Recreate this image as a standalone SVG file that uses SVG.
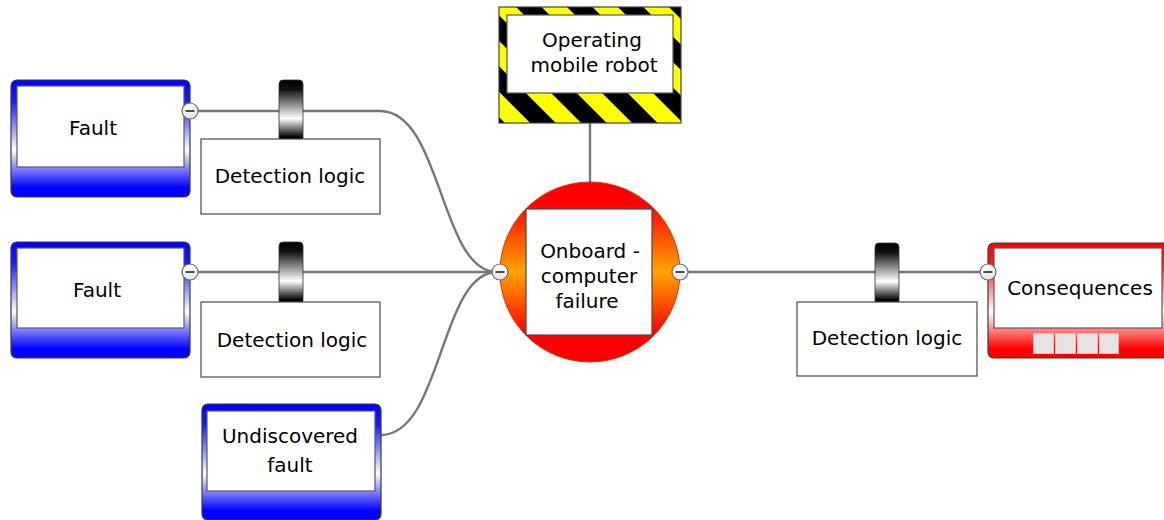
<svg xmlns="http://www.w3.org/2000/svg" width="1164" height="520" viewBox="0 0 1164 520">
  <defs>
    <linearGradient id="gBlue" x1="0" y1="0" x2="0" y2="1">
      <stop offset="0" stop-color="#0000ff"/>
      <stop offset="0.18" stop-color="#1a1aff"/>
      <stop offset="0.6" stop-color="#ffffff"/>
      <stop offset="0.92" stop-color="#0000ff"/>
      <stop offset="1" stop-color="#0000ff"/>
    </linearGradient>
    <linearGradient id="gRed" x1="0" y1="0" x2="0" y2="1">
      <stop offset="0" stop-color="#ff0000"/>
      <stop offset="0.18" stop-color="#ff1a1a"/>
      <stop offset="0.6" stop-color="#ffffff"/>
      <stop offset="0.92" stop-color="#ff0000"/>
      <stop offset="1" stop-color="#ff0000"/>
    </linearGradient>
    <linearGradient id="gCore" x1="0" y1="0" x2="0" y2="1">
      <stop offset="0" stop-color="#ff0000"/>
      <stop offset="0.12" stop-color="#ff0000"/>
      <stop offset="0.5" stop-color="#ffa500"/>
      <stop offset="0.84" stop-color="#ff0000"/>
      <stop offset="1" stop-color="#ff0000"/>
    </linearGradient>
    <linearGradient id="gBarrel" x1="0" y1="0" x2="0" y2="1">
      <stop offset="0" stop-color="#000000"/>
      <stop offset="0.15" stop-color="#111111"/>
      <stop offset="0.62" stop-color="#ffffff"/>
      <stop offset="0.92" stop-color="#000000"/>
      <stop offset="1" stop-color="#000000"/>
    </linearGradient>
    <linearGradient id="gKnob" x1="0" y1="0" x2="0" y2="1">
      <stop offset="0" stop-color="#ffffff"/>
      <stop offset="1" stop-color="#e4e4e4"/>
    </linearGradient>
    <pattern id="hazard" width="36" height="36" patternUnits="userSpaceOnUse" patternTransform="rotate(-45)">
      <rect width="36" height="36" fill="#ffff00"/>
      <rect width="18" height="36" fill="#000000"/>
    </pattern>
    <g id="knob">
      <circle r="8" fill="url(#gKnob)" stroke="#6a6a6a" stroke-width="1.2"/>
      <line x1="-4.5" y1="0" x2="4.5" y2="0" stroke="#222" stroke-width="1.6"/>
    </g>
  </defs>
  <style>
    .lbl { font-family: "DejaVu Sans", "Liberation Sans", sans-serif; font-size: 20px; fill: #000; text-anchor: middle; }
    .frame { stroke: #3a3a3a; stroke-width: 1.2; }
    .face { fill: #ffffff; stroke: #5a5a5a; stroke-width: 1.2; }
    .box { fill: #ffffff; stroke: #4a4a4a; stroke-width: 1.2; }
    .barrel { fill: url(#gBarrel); stroke: #333; stroke-width: 0.8; }
    .link { fill: none; stroke: #777777; stroke-width: 2.4; }
  </style>

  <rect width="1164" height="520" fill="#ffffff"/>

  <!-- connectors -->
  <g id="connectors">
    <path class="link" d="M198,111 H380 C442,111 440,272 497,272"/>
    <path class="link" d="M198,272 H497"/>
    <path class="link" d="M381,435 C442,435 440,272 497,272"/>
    <path class="link" d="M590,123 V183"/>
    <path class="link" d="M688,272 H980"/>
  </g>

  <!-- cause: fault -->
  <g id="fault-1">
    <rect class="frame" x="11" y="80" width="179" height="117" rx="6" fill="url(#gBlue)"/>
    <rect class="face" x="17" y="86" width="167" height="81"/>
    <text class="lbl" x="93" y="135">Fault</text>
    <use href="#knob" x="190" y="111"/>
  </g>

  <g id="barrier-1">
    <rect class="barrel" x="279" y="80" width="24" height="62" rx="4"/>
    <rect class="box" x="201" y="139" width="179" height="75"/>
    <text class="lbl" x="290" y="183">Detection logic</text>
  </g>

  <g id="fault-2">
    <rect class="frame" x="11" y="242" width="179" height="116" rx="6" fill="url(#gBlue)"/>
    <rect class="face" x="17" y="248" width="167" height="80"/>
    <text class="lbl" x="97" y="297">Fault</text>
    <use href="#knob" x="190" y="272"/>
  </g>

  <g id="barrier-2">
    <rect class="barrel" x="279" y="242" width="24" height="63" rx="4"/>
    <rect class="box" x="201" y="302" width="179" height="75"/>
    <text class="lbl" x="292" y="347">Detection logic</text>
  </g>

  <g id="undiscovered-fault">
    <rect class="frame" x="202" y="404" width="179" height="116" rx="6" fill="url(#gBlue)"/>
    <rect class="face" x="207" y="411" width="168" height="80"/>
    <text class="lbl" x="290" y="443">Undiscovered</text>
    <text class="lbl" x="290" y="472">fault</text>
  </g>

  <!-- hazard -->
  <g id="hazard-robot">
    <rect x="499" y="7" width="182" height="116" fill="url(#hazard)" stroke="#444" stroke-width="1.2"/>
    <rect class="face" x="507" y="15" width="166" height="78"/>
    <text class="lbl" x="592" y="47">Operating</text>
    <text class="lbl" x="594" y="72">mobile robot</text>
  </g>

  <!-- top event -->
  <g id="top-event">
    <circle cx="590" cy="272" r="90" fill="url(#gCore)" stroke="#ee2a00" stroke-width="1"/>
    <rect class="box" x="526" y="209" width="126" height="126"/>
    <text class="lbl" x="590" y="258">Onboard -</text>
    <text class="lbl" x="589" y="283">computer</text>
    <text class="lbl" x="587" y="308">failure</text>
    <use href="#knob" x="500" y="272"/>
    <use href="#knob" x="680" y="272"/>
  </g>

  <g id="barrier-3">
    <rect class="barrel" x="875" y="243" width="24" height="62" rx="4"/>
    <rect class="box" x="797" y="302" width="180" height="74"/>
    <text class="lbl" x="887" y="345">Detection logic</text>
  </g>

  <!-- consequence -->
  <g id="consequences">
    <rect class="frame" x="988" y="243" width="190" height="115" rx="6" fill="url(#gRed)"/>
    <rect class="face" x="994" y="248" width="168" height="80"/>
    <text class="lbl" x="1080" y="295">Consequences</text>
    <g fill="#e4e4e4" stroke="#ffb0b0" stroke-width="1">
      <rect x="1033.5" y="333.5" width="20" height="20"/>
      <rect x="1055.5" y="333.5" width="20" height="20"/>
      <rect x="1077.5" y="333.5" width="20" height="20"/>
      <rect x="1099.5" y="333.5" width="19" height="20"/>
    </g>
    <use href="#knob" x="988" y="272"/>
  </g>
</svg>
